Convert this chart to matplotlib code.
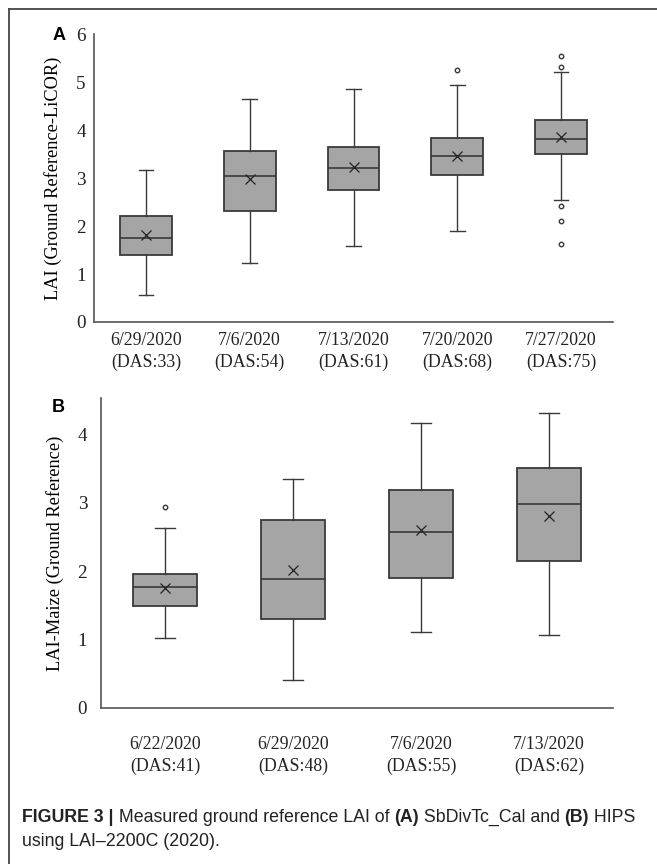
"""
LAI ground reference boxplots (A: SbDivTc_Cal, B: HIPS)
"""

import matplotlib
matplotlib.use('Agg')
import matplotlib.pyplot as plt
from matplotlib.lines import Line2D

# Panel A data
a_dates = ['6/29/2020', '7/6/2020', '7/13/2020', '7/20/2020', '7/27/2020']
a_das = [33, 54, 61, 68, 75]
a_whislo = [0.56, 1.23, 1.59, 1.91, 2.55]
a_q1 = [1.41, 2.33, 2.75, 3.08, 3.51]
a_med = [1.75, 3.06, 3.22, 3.47, 3.83]
a_mean = [1.81, 2.98, 3.23, 3.46, 3.86]
a_q3 = [2.21, 3.58, 3.66, 3.85, 4.23]
a_whishi = [3.17, 4.66, 4.87, 4.96, 5.22]
a_fliers = [[], [], [], [5.27], [5.57, 5.33, 2.42, 2.12, 1.62]]

# Panel B data
b_dates = ['6/22/2020', '6/29/2020', '7/6/2020', '7/13/2020']
b_das = [41, 48, 55, 62]
b_whislo = [1.02, 0.41, 1.11, 1.07]
b_q1 = [1.49, 1.30, 1.90, 2.15]
b_med = [1.77, 1.88, 2.57, 2.98]
b_mean = [1.75, 2.01, 2.60, 2.80]
b_q3 = [1.96, 2.74, 3.18, 3.50]
b_whishi = [2.63, 3.34, 4.16, 4.31]
b_fliers = [[2.93], [], [], []]

W, H = 657, 864
fig = plt.figure(figsize=(W / 100, H / 100), dpi=100)

serif = ['Liberation Serif', 'DejaVu Serif']
edge = '#3a3a3a'


def make_stats(whislo, q1, med, mean, q3, whishi, fliers):
    return [dict(whislo=lo, q1=a, med=m, mean=mu, q3=b, whishi=hi, fliers=fl)
            for lo, a, m, mu, b, hi, fl in zip(whislo, q1, med, mean, q3, whishi, fliers)]


def draw_panel(ax, stats, dates, das, ymax, xpad, ypad, capw):
    n = len(stats)
    ax.bxp(stats, positions=range(n), widths=0.5, capwidths=capw,
           showmeans=True, patch_artist=True,
           boxprops=dict(facecolor='#a5a5a5', edgecolor=edge, linewidth=1.3),
           medianprops=dict(color=edge, linewidth=1.2),
           whiskerprops=dict(color=edge, linewidth=1.0),
           capprops=dict(color=edge, linewidth=1.0),
           meanprops=dict(marker='x', markeredgecolor='#222222', markersize=7,
                          markeredgewidth=0.9),
           flierprops=dict(marker='o', markerfacecolor='none', markeredgecolor=edge,
                           markersize=3.2, markeredgewidth=1.0))
    ax.set_xlim(-0.5, n - 0.5)
    ax.set_ylim(0, ymax)
    ax.set_xticks(range(n))
    ax.set_xticklabels([f'{d}\n(DAS:{s})' for d, s in zip(dates, das)],
                       family=serif, fontsize=12.8, linespacing=1.35)
    ax.tick_params(axis='both', length=0, colors='#222222')
    ax.tick_params(axis='x', pad=xpad)
    ax.tick_params(axis='y', pad=ypad)
    for s in ['top', 'right']:
        ax.spines[s].set_visible(False)
    for s in ['left', 'bottom']:
        ax.spines[s].set_color('#555555')
        ax.spines[s].set_linewidth(1.2)


# Panel A
axA = fig.add_axes([94 / W, (H - 322) / H, (613 - 94) / W, (322 - 34) / H])
draw_panel(axA, make_stats(a_whislo, a_q1, a_med, a_mean, a_q3, a_whishi, a_fliers),
           a_dates, a_das, 6.02, 7, 6, 0.14)
axA.set_yticks(range(0, 7))
for lab in axA.get_yticklabels():
    lab.set_family(serif)
    lab.set_fontsize(13.8)
axA.set_ylabel('LAI (Ground Reference-LiCOR)', family=serif, fontsize=13.2, labelpad=10)

# Panel B
axB = fig.add_axes([101 / W, (H - 708) / H, (613 - 101) / W, (708 - 398) / H])
draw_panel(axB, make_stats(b_whislo, b_q1, b_med, b_mean, b_q3, b_whishi, b_fliers),
           b_dates, b_das, 4.53, 20, 10, 0.15)
axB.set_yticks(range(0, 5))
for lab in axB.get_yticklabels():
    lab.set_family(serif)
    lab.set_fontsize(13.8)
axB.set_ylabel('LAI-Maize (Ground Reference)', family=serif, fontsize=13.2, labelpad=10)

# panel letters
fig.text(53 / W, 1 - 35 / H, 'A', fontsize=13, fontweight='bold',
         family='Liberation Sans', va='center', ha='left')
fig.text(52 / W, 1 - 407 / H, 'B', fontsize=13, fontweight='bold',
         family='Liberation Sans', va='center', ha='left')

# outer frame
fig.add_artist(Line2D([8.5 / W, 8.5 / W], [0, 1 - 9 / H], color='#444444', linewidth=1.3,
                      transform=fig.transFigure))
fig.add_artist(Line2D([8.5 / W, 1], [1 - 9 / H, 1 - 9 / H], color='#444444', linewidth=1.3,
                      transform=fig.transFigure))

# caption, pieces placed one after another
cap_size = 12.8
renderer = fig.canvas.get_renderer()


def caption_line(pieces, x0, y):
    x = x0
    for txt, bold in pieces:
        t = fig.text(x / W, 1 - y / H, txt, fontsize=cap_size, family='Liberation Sans',
                     fontweight='bold' if bold else 'normal', va='center', ha='left',
                     color='#222222')
        bb = t.get_window_extent(renderer)
        x += bb.width


caption_line([('FIGURE 3 |', True), (' Measured ground reference LAI of ', False),
              ('(A)', True), (' SbDivTc_Cal and ', False), ('(B)', True), (' HIPS', False)],
             22, 817)
caption_line([('using LAI\u20132200C (2020).', False)], 22, 842)

fig.savefig('out.png', dpi=100)
